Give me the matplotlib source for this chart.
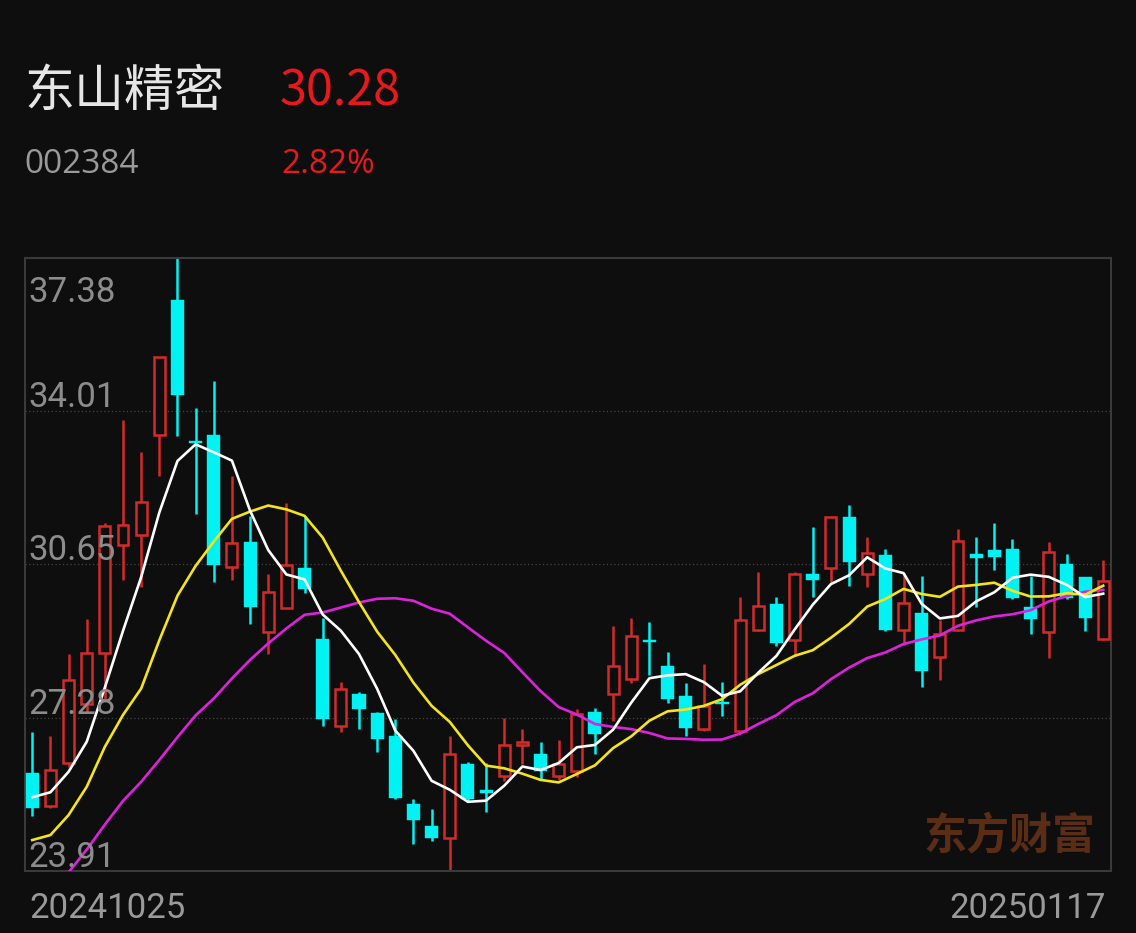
import numpy as np
import pandas as pd
import matplotlib
matplotlib.use("Agg")
import matplotlib.pyplot as plt
from matplotlib.patches import Rectangle

# ---------------- data ----------------
stock_name = "东山精密"
stock_code = "002384"
last_price = "30.28"
pct_change = "2.82%"
start_date = "20241025"
end_date = "20250117"
y_labels = [37.38, 34.01, 30.65, 27.28, 23.91]

opens = [26.06, 25.34, 26.29, 27.59, 28.70, 31.08, 31.30, 33.49, 36.46, 33.36,
         33.49, 30.58, 31.14, 29.16, 29.70, 30.56, 29.00, 27.09, 27.80, 27.39,
         26.87, 25.38, 24.89, 24.63, 26.27, 25.68, 25.99, 26.69, 26.49, 25.99,
         26.10, 27.41, 27.79, 28.13, 28.98, 28.41, 27.76, 27.02, 27.62, 26.99,
         29.20, 29.77, 28.98, 30.44, 30.56, 31.69, 30.43, 30.86, 29.20, 29.58,
         28.62, 29.20, 30.88, 30.97, 30.99, 29.71, 29.16, 30.66, 30.36, 29.00]
highs = [26.97, 26.87, 28.68, 29.45, 31.55, 33.82, 33.11, 35.21, 37.38, 34.08,
         34.67, 32.59, 31.71, 30.43, 32.00, 31.71, 29.46, 28.07, 27.84, 27.40,
         27.24, 25.49, 25.27, 26.87, 26.30, 26.29, 27.28, 27.04, 26.75, 26.78,
         27.48, 27.50, 29.29, 29.46, 29.39, 28.72, 28.04, 28.46, 28.07, 29.92,
         30.49, 29.92, 30.47, 31.46, 31.70, 31.96, 31.24, 30.99, 30.45, 30.40,
         29.42, 31.43, 31.26, 31.56, 31.21, 30.40, 31.13, 30.88, 30.38, 30.75]
lows = [25.12, 25.30, 26.19, 27.41, 27.67, 30.30, 30.16, 32.59, 33.46, 31.76,
        30.27, 30.31, 29.33, 28.68, 29.68, 30.02, 27.10, 26.97, 27.03, 26.52,
        25.50, 24.51, 24.57, 23.91, 25.45, 25.21, 25.88, 26.27, 25.94, 25.92,
        25.97, 26.47, 27.21, 28.04, 28.21, 27.60, 26.87, 26.98, 27.31, 26.97,
        29.18, 28.85, 28.63, 29.92, 30.25, 30.18, 30.14, 29.18, 28.88, 27.95,
        28.11, 29.18, 29.71, 30.53, 29.88, 29.11, 28.59, 29.88, 29.19, 28.98]
closes = [25.29, 26.12, 28.11, 28.70, 31.49, 31.52, 32.02, 35.21, 34.36, 33.32,
          30.64, 31.11, 29.71, 30.03, 30.64, 30.10, 27.26, 27.92, 27.47, 26.82,
          25.51, 25.03, 24.63, 26.49, 25.49, 25.64, 26.67, 26.74, 26.10, 26.26,
          27.37, 26.93, 28.42, 29.07, 28.94, 27.69, 27.06, 27.54, 27.58, 29.42,
          29.74, 28.91, 30.43, 30.31, 31.68, 30.71, 30.89, 29.20, 29.80, 28.30,
          29.11, 31.17, 30.79, 30.80, 29.90, 29.45, 30.93, 29.90, 29.46, 30.28]

ma5_head = [25.53, 25.64, 26.09, 26.75]
ma10_head = [24.59, 24.70, 25.14, 25.76, 26.64, 27.34, 27.92, 28.98, 29.96]
ma20_head = [22.98, 23.43, 23.88, 24.38, 24.93, 25.45, 25.87, 26.35, 26.85, 27.33,
             27.70, 28.14, 28.55, 28.91, 29.24, 29.54, 29.59, 29.70, 29.81]

# ---------------- style ----------------
BG = "#0e0e0e"
RED = "#d42a2a"
CYAN = "#00f2f2"
HDR_RED = "#e8191c"
GRAY = "#8c8c8c"

W, H = 1136, 933
fig = plt.figure(figsize=(W / 100, H / 100), dpi=100, facecolor=BG)

left, right, top, bottom = 25, 1111, 258, 871
ax = fig.add_axes([left / W, 1 - bottom / H, (right - left) / W, (bottom - top) / H])
ax.set_facecolor(BG)
n = len(closes)
ax.set_xlim(-0.40, 59.43)
ax.set_ylim(y_labels[-1], y_labels[0])
ax.set_xticks([])
ax.set_yticks([])
for s in ax.spines.values():
    s.set_color("#3a3a3a")
    s.set_linewidth(1.5)

for v in y_labels[1:-1]:
    ax.axhline(v, color="#444444", lw=0.9, ls=(0, (1, 2)), zorder=1)

# candles
x = np.arange(n)
body_w = 0.72
px_per_unit_y = (bottom - top) / (y_labels[0] - y_labels[-1])
min_h = 2.5 / px_per_unit_y
for i in range(n):
    o, h, l, c = opens[i], highs[i], lows[i], closes[i]
    up = c >= o
    col = RED if up else CYAN
    ax.vlines(x[i], l, h, color=col, lw=1.8, zorder=2)
    lo_b = min(o, c)
    hgt = max(abs(c - o), min_h)
    if abs(c - o) < min_h:
        lo_b = (o + c) / 2 - hgt / 2
    if up:
        ax.add_patch(Rectangle((x[i] - 0.30, lo_b), 0.60, hgt, facecolor=BG,
                               edgecolor=RED, lw=1.8, zorder=3))
    else:
        ax.add_patch(Rectangle((x[i] - body_w / 2, lo_b), body_w, hgt,
                               facecolor=CYAN, edgecolor=CYAN, lw=0.3, zorder=3))

# moving averages
cs = pd.Series(closes)
ma5 = cs.rolling(5).mean().to_numpy()
ma5[:len(ma5_head)] = ma5_head
ma10 = cs.rolling(10).mean().to_numpy()
ma10[:len(ma10_head)] = ma10_head
ma20 = cs.rolling(20).mean().to_numpy()
ma20[:len(ma20_head)] = ma20_head
ax.plot(x, ma20, color="#dd22dd", lw=1.9, zorder=4)
ax.plot(x, ma10, color="#f5e41a", lw=1.9, zorder=5)
ax.plot(x, ma5, color="#ffffff", lw=1.9, zorder=6)

# y labels
lab_font = dict(family=["Roboto", "DejaVu Sans"], fontsize=25, color=GRAY)
ax.annotate(f"{y_labels[0]:.2f}", xy=(0, 1), xycoords="axes fraction",
            xytext=(3, -18), textcoords="offset pixels", ha="left", va="top",
            zorder=7, **lab_font)
for v in y_labels[1:]:
    ax.annotate(f"{v:.2f}", xy=(0, v), xycoords=("axes fraction", "data"),
                xytext=(3, 4), textcoords="offset pixels", ha="left",
                va="baseline", zorder=7, **lab_font)

# watermark
ax.text((1009 - left) / (right - left), 1 - (836 - top) / (bottom - top),
        "东方财富", transform=ax.transAxes, ha="center", va="center",
        fontsize=31, fontweight="bold", color="#5a2d14",
        family=["Noto Sans CJK SC", "DejaVu Sans"], zorder=1)

# header
cjk = ["Noto Sans CJK SC", "DejaVu Sans"]
latin = ["Open Sans", "DejaVu Sans"]
fig.text(24 / W, 1 - 106 / H, stock_name, color="#e6e6e6", fontsize=36,
         family=cjk, ha="left", va="baseline")
fig.text(280 / W, 1 - 105 / H, last_price, color=HDR_RED, fontsize=35,
         family=cjk, ha="left", va="baseline")
fig.text(24 / W, 1 - 173 / H, stock_code, color="#9a9a9a", fontsize=24,
         family=latin, ha="left", va="baseline")
fig.text(281 / W, 1 - 173 / H, pct_change, color=HDR_RED, fontsize=24,
         family=latin, ha="left", va="baseline")

# dates
date_font = dict(family=["Roboto", "DejaVu Sans"], fontsize=25, color="#9a9a9a")
fig.text(29 / W, 1 - 918 / H, start_date, ha="left", va="baseline", **date_font)
fig.text(1106 / W, 1 - 918 / H, end_date, ha="right", va="baseline", **date_font)

fig.savefig("out.png", dpi=100, facecolor=BG)
